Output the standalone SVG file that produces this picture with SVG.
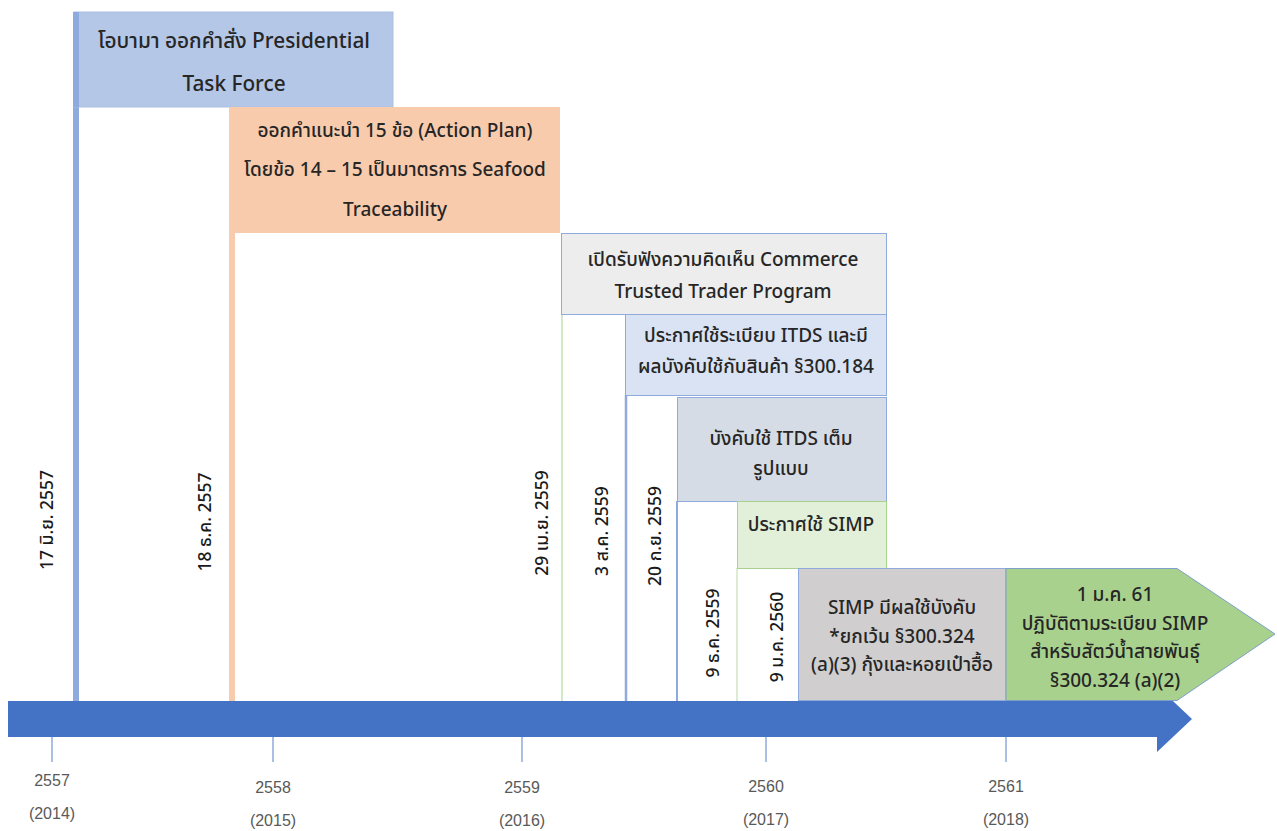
<svg xmlns="http://www.w3.org/2000/svg" width="1277" height="831" viewBox="0 0 1277 831">
<style>
.t{font-family:"Noto Sans Thai","Noto Sans","Liberation Sans",Tahoma,sans-serif;font-size:19px;font-weight:500;fill:#262626;text-anchor:middle;}
.big{font-size:20.8px;}
.v{font-family:"Noto Sans Thai","Noto Sans","Liberation Sans",Tahoma,sans-serif;font-size:17.5px;font-weight:500;fill:#1a1a1a;text-anchor:middle;}
.y{font-family:"Liberation Sans",Tahoma,sans-serif;font-size:16px;fill:#595959;text-anchor:middle;}
.tick{stroke:#8faadc;stroke-width:1.5;}
</style>
<rect width="1277" height="831" fill="#ffffff"/>
<g id="stems">
<line x1="76" y1="12" x2="76" y2="703" stroke="#8faadc" stroke-width="6"/>
<line x1="232" y1="107" x2="232" y2="703" stroke="#f8cbad" stroke-width="6"/>
<line x1="562" y1="314" x2="562" y2="701" stroke="#c5e0b4" stroke-width="1.5"/>
<line x1="626" y1="395" x2="626" y2="701" stroke="#8faadc" stroke-width="2.5"/>
<line x1="677" y1="501" x2="677" y2="701" stroke="#8faadc" stroke-width="2"/>
<line x1="737" y1="568" x2="737" y2="701" stroke="#c5e0b4" stroke-width="1.2"/>
</g>
<g id="n1">
<rect x="74" y="12" width="319" height="95" fill="#b4c7e7" stroke="#a9bfe3" stroke-width="1"/>
<line x1="76" y1="12" x2="76" y2="107" stroke="#8faadc" stroke-width="6"/>
<text class="t big" x="234" y="48">โอบามา ออกคำสั่ง Presidential</text>
<text class="t big" x="234" y="91">Task Force</text>
</g>
<g id="n2">
<rect x="229" y="107" width="331" height="126" fill="#f8cbad"/>
<text class="t" x="395" y="137">ออกคำแนะนำ 15 ข้อ (Action Plan)</text>
<text class="t" x="395" y="176">โดยข้อ 14 – 15 เป็นมาตรการ Seafood</text>
<text class="t" x="395" y="216">Traceability</text>
</g>
<g id="n3">
<rect x="561.5" y="233.5" width="325" height="81" fill="#ededed" stroke="#8faadc" stroke-width="1"/>
<text class="t" x="723" y="266">เปิดรับฟังความคิดเห็น Commerce</text>
<text class="t" x="723" y="298">Trusted Trader Program</text>
</g>
<g id="n4">
<rect x="625.5" y="314.5" width="261" height="81" fill="#dae3f3" stroke="#8faadc" stroke-width="1"/>
<text class="t" x="756" y="342">ประกาศใช้ระเบียบ ITDS และมี</text>
<text class="t" x="756" y="373">ผลบังคับใช้กับสินค้า §300.184</text>
</g>
<g id="n5">
<rect x="677.5" y="397.5" width="209" height="104" fill="#d6dce5" stroke="#8faadc" stroke-width="1"/>
<text class="t" x="781" y="445">บังคับใช้ ITDS เต็ม</text>
<text class="t" x="781" y="475">รูปแบบ</text>
</g>
<g id="n6">
<rect x="737.5" y="501.5" width="149" height="67" fill="#e2f0d9" stroke="#a9d18e" stroke-width="1"/>
<text class="t" x="811" y="531">ประกาศใช้ SIMP</text>
</g>
<g id="n7">
<rect x="798.5" y="568.5" width="207.5" height="132" fill="#d0cece" stroke="#8faadc" stroke-width="1"/>
<text class="t" x="902" y="614">SIMP มีผลใช้บังคับ</text>
<text class="t" x="902" y="643">*ยกเว้น §300.324</text>
<text class="t" x="902" y="671">(a)(3) กุ้งและหอยเป๋าฮื้อ</text>
</g>
<g id="axis">
<polygon points="8,701 1157,701 1157,686 1192,719 1157,752 1157,737 8,737" fill="#4472c4"/>
<line class="tick" x1="52" y1="737" x2="52" y2="762"/>
<line class="tick" x1="273" y1="737" x2="273" y2="762"/>
<line class="tick" x1="522" y1="737" x2="522" y2="762"/>
<line class="tick" x1="766" y1="737" x2="766" y2="762"/>
<line class="tick" x1="1006" y1="737" x2="1006" y2="762"/>
<text class="y" x="52" y="786">2557</text>
<text class="y" x="52" y="819">(2014)</text>
<text class="y" x="273" y="793">2558</text>
<text class="y" x="273" y="826">(2015)</text>
<text class="y" x="522" y="793">2559</text>
<text class="y" x="522" y="826">(2016)</text>
<text class="y" x="766" y="792">2560</text>
<text class="y" x="766" y="825">(2017)</text>
<text class="y" x="1006" y="792">2561</text>
<text class="y" x="1006" y="825">(2018)</text>
</g>
<g id="n8">
<polygon points="1006,568.5 1177,568.5 1275,634 1177,700.5 1006,700.5" fill="#a9d18e" stroke="#7f9fc8" stroke-width="1"/>
<text class="t" x="1115" y="601">1 ม.ค. 61</text>
<text class="t" x="1115" y="630">ปฏิบัติตามระเบียบ SIMP</text>
<text class="t" x="1115" y="658">สำหรับสัตว์น้ำสายพันธุ์</text>
<text class="t" x="1115" y="687">§300.324 (a)(2)</text>
</g>
<g id="dates">
<text class="v" transform="translate(53,520) rotate(-90)">17 มิ.ย. 2557</text>
<text class="v" transform="translate(211,522) rotate(-90)">18 ธ.ค. 2557</text>
<text class="v" transform="translate(548,523) rotate(-90)">29 เม.ย. 2559</text>
<text class="v" transform="translate(608,531) rotate(-90)">3 ส.ค. 2559</text>
<text class="v" transform="translate(661,536) rotate(-90)">20 ก.ย. 2559</text>
<text class="v" transform="translate(719,633) rotate(-90)">9 ธ.ค. 2559</text>
<text class="v" transform="translate(783,637) rotate(-90)">9 ม.ค. 2560</text>
</g>
</svg>
